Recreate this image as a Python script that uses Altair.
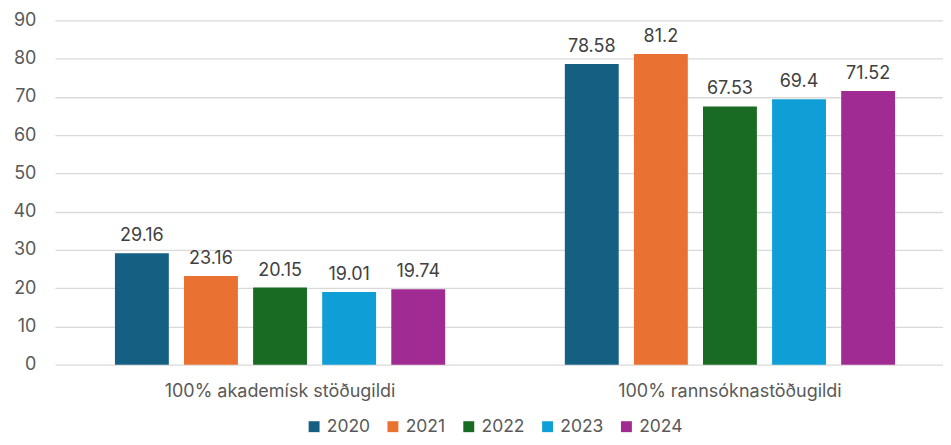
import altair as alt
import pandas as pd

categories = ["100% akademísk stöðugildi", "100% rannsóknastöðugildi"]
years = ["2020", "2021", "2022", "2023", "2024"]
values_akad = [29.16, 23.16, 20.15, 19.01, 19.74]
values_rann = [78.58, 81.2, 67.53, 69.4, 71.52]
y_ticks = [0, 10, 20, 30, 40, 50, 60, 70, 80, 90]
colors = ["#156082", "#E97132", "#196B24", "#0F9ED5", "#A02B93"]

rows = []
for y, v in zip(years, values_akad):
    rows.append({"cat": categories[0], "year": y, "val": v})
for y, v in zip(years, values_rann):
    rows.append({"cat": categories[1], "year": y, "val": v})
df = pd.DataFrame(rows)

FONT = "Inter"
FS = 18

base = alt.Chart(df).encode(
    x=alt.X("cat:N", sort=categories, title=None,
            scale=alt.Scale(paddingInner=0.266, paddingOuter=0.12, align=0.556),
            axis=alt.Axis(labelAngle=0, labelFontSize=FS, labelColor="#595959",
                          labelFont=FONT, ticks=False, domain=False, labelPadding=18,
                          labelLimit=0)),
    xOffset=alt.XOffset("year:N", sort=years, scale=alt.Scale(paddingInner=0.22, paddingOuter=0)),
    y=alt.Y("val:Q", title=None,
            scale=alt.Scale(domain=[0, 90], nice=False),
            axis=alt.Axis(values=y_ticks, labelFontSize=FS, labelColor="#595959",
                          labelFont=FONT, ticks=False, domain=False, labelPadding=19,
                          labelOverlap=False, gridColor="#d9d9d9", gridWidth=1.3)),
)

bars = base.mark_bar().encode(
    color=alt.Color("year:N", sort=years, scale=alt.Scale(domain=years, range=colors),
                    legend=alt.Legend(title=None, orient="none", direction="horizontal",
                                      legendX=251, legendY=398, columns=5,
                                      symbolType="square", symbolSize=120, symbolStrokeWidth=0,
                                      labelFontSize=17.5, labelColor="#595959", labelFont=FONT,
                                      columnPadding=14, symbolOffset=0, labelOffset=4)),
)

labels = base.mark_text(dy=-12, fontSize=FS, color="#404040", font=FONT, baseline="alphabetic").encode(
    text=alt.Text("val:Q"),
)

chart = alt.layer(bars, labels).properties(
    width=890, height=345,
    autosize=alt.AutoSizeParams(type="none"),
    padding={"left": 47, "top": 12, "right": 0, "bottom": 72},
).configure_view(stroke=None)

chart.save("out.html", embed_options={"renderer": "svg", "actions": False})
